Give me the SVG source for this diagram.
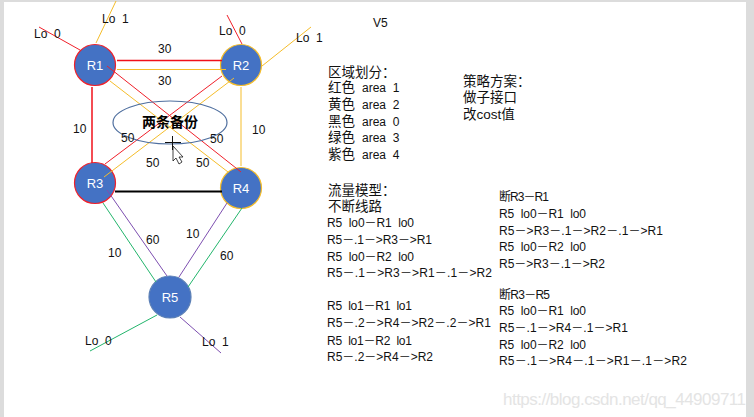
<svg xmlns="http://www.w3.org/2000/svg" width="754" height="417" viewBox="0 0 754 417">
<style>
text{font-family:"Liberation Sans","Noto Sans CJK SC",sans-serif;font-size:12px;fill:#111;white-space:pre}
.cj{font-size:13.5px}
.n{fill:#4472c4;stroke-width:1.2}
.nt{fill:#fff;font-size:13px;text-anchor:middle}
.c{fill:none;stroke-width:1}
.red{stroke:#f0202a}.yel{stroke:#f5bd2a}.grn{stroke:#23b56c}.pur{stroke:#7d4fb0}
</style>
<rect width="754" height="417" fill="#dcdcdc"/>
<rect x="4" y="2" width="742" height="415" fill="#fff"/>
<g id="R1"><circle class="n" cx="95" cy="65" r="20.500" stroke="#f0202a"/><text class="nt" x="95" y="70">R1</text></g>
<g id="R2"><circle class="n" cx="241" cy="65" r="20.500" stroke="#f5bd2a"/><text class="nt" x="241" y="70">R2</text></g>
<g id="R3"><circle class="n" cx="95" cy="183" r="20.500" stroke="#f0202a"/><text class="nt" x="95" y="188">R3</text></g>
<g id="R4"><circle class="n" cx="241" cy="188" r="20.500" stroke="#f5bd2a"/><text class="nt" x="241" y="193">R4</text></g>
<g id="R5"><circle class="n" cx="170" cy="297" r="21" stroke="#5b7fb5"/><text class="nt" x="170" y="302">R5</text></g>
<g id="connectors">
<path class="c red" d="M39 27L80 50M227 15L242 44M107 66L241 172M222 76L105 164"/>
<path class="c yel" d="M116 1L96 43M311 27L262 66M117 69.500H226M110 81L228 172M234 78L104 177M241 87V166"/>
<path d="M117 60.500H222" fill="none" stroke="#f0101a" stroke-width="1.500"/>
<path d="M92 87V163" fill="none" stroke="#f0101a" stroke-width="1.500"/>
<path d="M115 191.500H222" fill="none" stroke="#000" stroke-width="2"/>
<path class="c grn" d="M103 203L156 282M242 208L188 287M157 315L90 351"/>
<path class="c pur" d="M107 190L167 276M227 203L179 277M180 317L221 353"/>
</g>
<g id="backup"><ellipse cx="170" cy="122.500" rx="57" ry="21.500" fill="none" stroke="#4f6f9f" stroke-width="1.200"/><text x="170" y="127" text-anchor="middle" style="font-size:14px;font-weight:700;fill:#000">两条备份</text></g>
<g id="labels">
<text x="34" y="38">Lo  0</text><text x="102" y="23">Lo  1</text><text x="219" y="35">Lo  0</text><text x="296" y="42">Lo  1</text>
<text x="158" y="53">30</text><text x="158" y="85">30</text>
<text x="73" y="133">10</text><text x="252" y="134">10</text>
<text x="121" y="142">50</text><text x="210" y="143">50</text><text x="146" y="167">50</text><text x="196" y="167">50</text>
<text x="108" y="257">10</text><text x="146" y="244">60</text><text x="186" y="238">10</text><text x="220" y="260">60</text>
<text x="85" y="345">Lo  0</text><text x="202" y="346">Lo  1</text>
</g>
<g id="cursor" fill="#fff" stroke="#111" stroke-width="0.800">
<path d="M172.500 136V150M165 142.500H181" fill="none" stroke-width="1"/>
<path d="M173 146V161L176 158L179 164L182 162L179 157H183Z"/>
</g>
<g id="notes">
<text x="373" y="27">V5</text>
<text class="cj" x="328" y="77">区域划分：</text>
<text class="cj" x="328" y="92">红色</text><text x="362" y="92">area  1</text>
<text class="cj" x="328" y="109">黄色</text><text x="362" y="109">area  2</text>
<text class="cj" x="328" y="126">黑色</text><text x="362" y="126">area  0</text>
<text class="cj" x="328" y="142">绿色</text><text x="362" y="142">area  3</text>
<text class="cj" x="328" y="159">紫色</text><text x="362" y="159">area  4</text>
<text class="cj" x="463" y="86">策略方案：</text>
<text class="cj" x="463" y="102">做子接口</text>
<text class="cj" x="463" y="119">改cost值</text>
<text class="cj" x="328" y="195">流量模型：</text>
<text class="cj" x="328" y="211">不断线路</text>
<text x="327" y="227" textLength="87">R5  lo0－R1  lo0</text>
<text x="327" y="244" textLength="105">R5－.1－&gt;R3－&gt;R1</text>
<text x="327" y="261" textLength="87">R5  lo0－R2  lo0</text>
<text x="327" y="277" textLength="165">R5－.1－&gt;R3－&gt;R1－.1－&gt;R2</text>
<text x="327" y="310" textLength="85">R5  lo1－R1  lo1</text>
<text x="327" y="327" textLength="164">R5－.2－&gt;R4－&gt;R2－.2－&gt;R1</text>
<text x="327" y="345" textLength="85">R5  lo1－R2  lo1</text>
<text x="327" y="361" textLength="106">R5－.2－&gt;R4－&gt;R2</text>
<text x="499" y="201" textLength="50">断R3－R1</text>
<text x="499" y="218" textLength="87">R5  lo0－R1  lo0</text>
<text x="499" y="235" textLength="164">R5－&gt;R3－.1－&gt;R2－.1－&gt;R1</text>
<text x="499" y="251" textLength="87">R5  lo0－R2  lo0</text>
<text x="499" y="268" textLength="106">R5－&gt;R3－.1－&gt;R2</text>
<text x="499" y="299" textLength="51">断R3－R5</text>
<text x="499" y="315" textLength="87">R5  lo0－R1  lo0</text>
<text x="499" y="332" textLength="129">R5－.1－&gt;R4－.1－&gt;R1</text>
<text x="499" y="349" textLength="87">R5  lo0－R2  lo0</text>
<text x="499" y="365" textLength="188">R5－.1－&gt;R4－.1－&gt;R1－.1－&gt;R2</text>
</g>
<text x="503" y="405" style="font-size:17px;fill:#e4e4e4" textLength="243">https://blog.csdn.net/qq_44909711</text>
</svg>
